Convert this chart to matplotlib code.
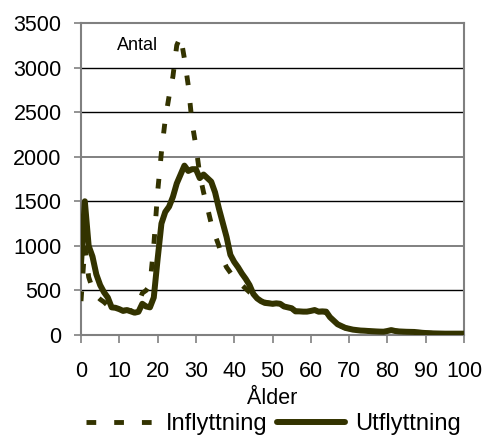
import matplotlib.pyplot as plt
import numpy as np

plt.rcParams['font.family'] = ['Liberation Sans', 'DejaVu Sans']

# Ålder 0..100
alder = list(range(0, 101))

# Utflyttning per ålder
utflyttning = [800, 1500, 1000, 880, 680, 560, 480, 420, 310, 305,
               290, 270, 280, 265, 250, 260, 350, 320, 310, 420,
               850, 1250, 1380, 1440, 1550, 1700, 1800, 1900, 1840, 1860,
               1860, 1760, 1800, 1760, 1720, 1600, 1420, 1260, 1100, 900,
               820, 760, 690, 630, 560, 460, 410, 380, 360, 355,
               350, 355, 350, 320, 310, 300, 265, 265, 262, 262,
               270, 280, 262, 265, 262, 200, 160, 120, 100, 80,
               70, 60, 55, 50, 48, 45, 42, 40, 38, 37,
               45, 55, 45, 40, 38, 36, 35, 34, 30, 25,
               22, 20, 18, 17, 16, 15, 15, 15, 15, 15, 15]

# Inflyttning per ålder
inflyttning = [380, 1000, 650, 520, 440, 400, 370, 330, 300, 300,
               290, 280, 275, 270, 280, 350, 470, 500, 560, 1000,
               1600, 2050, 2420, 2680, 2900, 3250, 3350, 3100, 2800, 2380,
               2120, 1800, 1600, 1430, 1250, 1120, 1000, 850, 760, 700,
               640, 610, 560, 520, 480, 450, 400, 380, 370, 360,
               350, 350, 345, 325, 310, 300, 270, 265, 260, 260,
               265, 270, 260, 260, 255, 200, 155, 118, 98, 80,
               70, 60, 55, 50, 48, 45, 42, 40, 38, 37,
               44, 52, 45, 40, 38, 36, 35, 33, 30, 25,
               22, 20, 18, 17, 16, 15, 15, 15, 15, 15, 15]

farg = '#333300'

fig = plt.figure(figsize=(4.83, 4.42), dpi=100)
ax = fig.add_axes([0.1677, 0.2421, 0.7930, 0.7059])

# stödlinjer
for v in range(500, 3500, 500):
    if v in (1000, 2000):
        ax.axhline(v, color='#808080', lw=1.4, zorder=1)
    else:
        ax.axhline(v, color='black', lw=1.0, zorder=1)

ax.plot(alder, inflyttning, color=farg, lw=3.5, linestyle=(0, (2.0, 3.7)),
        dash_capstyle='butt', label='Inflyttning', zorder=3)
ax.plot(alder, utflyttning, color=farg, lw=4.3, solid_capstyle='round',
        solid_joinstyle='round', label='Utflyttning', zorder=4)

ax.set_xlim(0, 100)
ax.set_ylim(0, 3500)
ax.set_xticks(range(0, 101, 10))
ax.set_yticks(range(0, 3501, 500))

for s in ax.spines.values():
    s.set_color('#808080')
    s.set_linewidth(1.5)

ax.tick_params(axis='y', direction='out', length=5, width=1.2, color='#808080',
               labelsize=15.5, pad=9)
ax.tick_params(axis='x', direction='out', length=6, width=1.2, color='#808080',
               labelsize=15.5, pad=13)

ax.set_xlabel('Ålder', fontsize=15.5, labelpad=4)
ax.text(9.5, 3200, 'Antal', fontsize=13)

fig.legend(loc='lower center', bbox_to_anchor=(0.567, -0.032), ncol=2,
           frameon=False, fontsize=17, handlelength=2.9, handletextpad=0.45,
           columnspacing=0.4)

fig.savefig('out.png', dpi=100)
